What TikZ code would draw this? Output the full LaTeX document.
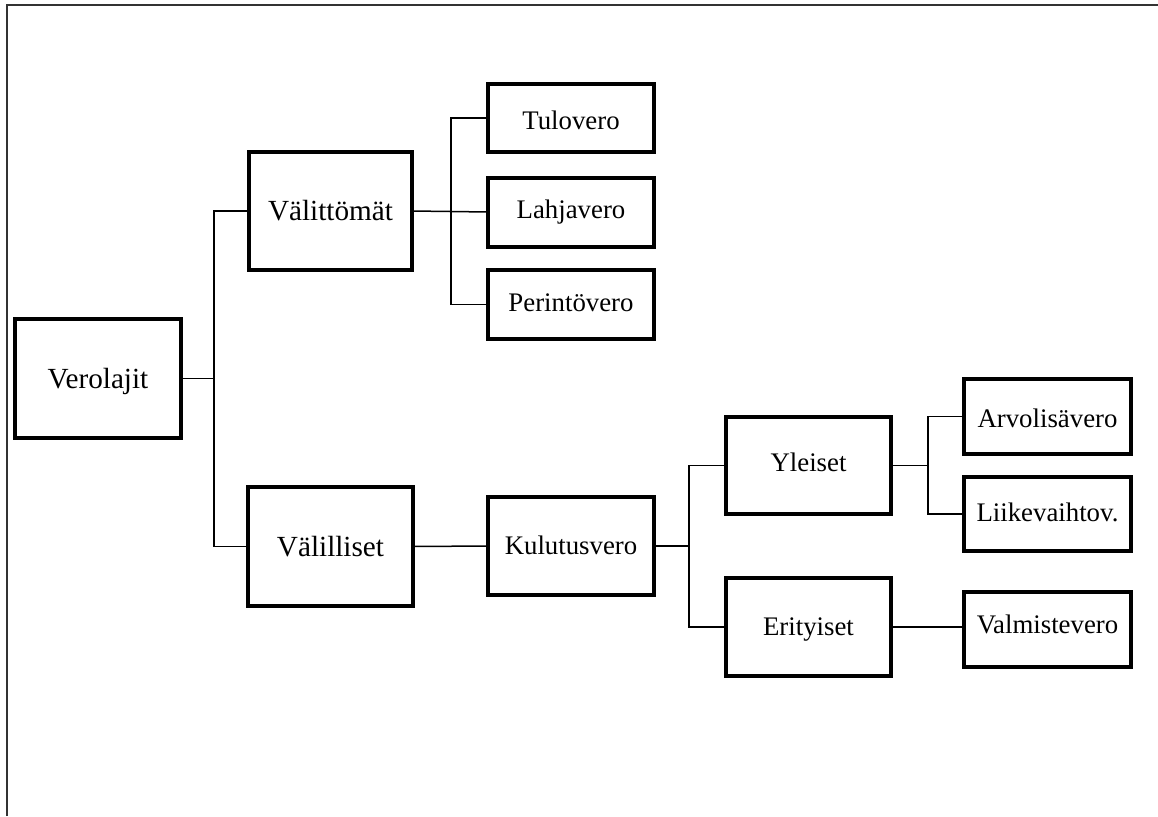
\documentclass[tikz,border=0pt]{standalone}
\usepackage{fontspec}
\setmainfont{Liberation Serif}
\newcommand{\shiftt}[2]{\raisebox{#1}{#2}}
\begin{document}
\begin{tikzpicture}[x=1pt,y=-1pt,
  box/.style={draw=black,line width=4pt,rectangle,inner sep=0pt,outer sep=0pt,
    align=center,text depth=0pt},
  big/.style={box,text height=19.2pt,font=\fontsize{29.2}{32}\selectfont},
  small/.style={box,text height=17.8pt,font=\fontsize{26.8}{30}\selectfont},
  link/.style={draw=black,line width=1.5pt},
  frame/.style={draw=black!80,line width=2pt}]
\useasboundingbox (0,0) rectangle (1158,816);
\draw[frame] (6.5,816) -- (6.5,5) -- (1158,5);

\node[big,minimum width=166pt,minimum height=119pt] (v) at (98,378.5) {Verolajit};
\node[big,minimum width=163pt,minimum height=118pt] (vt) at (330.5,211) {Välittömät};
\node[big,minimum width=165pt,minimum height=119pt] (vl) at (330.5,546.5) {Välilliset};

\node[small,minimum width=166pt,minimum height=68pt] (tu) at (571,118) {\shiftt{-3pt}{Tulovero}};
\node[small,minimum width=166pt,minimum height=69pt] (la) at (571,212) {\shiftt{2.5pt}{Lahjavero}};
\node[small,minimum width=166pt,minimum height=69pt] (pe) at (571,304.5) {\shiftt{2pt}{Perintövero}};
\node[small,minimum width=166pt,minimum height=98pt] (ku) at (571,546) {Kulutusvero};

\node[small,minimum width=165pt,minimum height=97pt] (yl) at (808.5,465.5) {\shiftt{2.5pt}{Yleiset}};
\node[small,minimum width=165pt,minimum height=98pt] (er) at (808.5,627) {Erityiset};

\node[small,minimum width=167pt,minimum height=75pt] (ar) at (1047.5,416.5) {\shiftt{-2.5pt}{Arvolisävero}};
\node[small,minimum width=167pt,minimum height=74pt] (li) at (1047.5,514) {\shiftt{1.5pt}{Liikevaihtov.}};
\node[small,minimum width=167pt,minimum height=75pt] (va) at (1047.5,629.5) {\shiftt{5pt}{Valmistevero}};

\coordinate (j1) at (214,378.5);
\coordinate (j2) at (451,211);
\coordinate (j3) at (689,546);
\coordinate (j4) at (928,465.5);

\draw[link] (v.east) -- (j1);
\draw[link] (vt.west) -| (j1) |- (vl.west);
\draw[link] (vt.east) -- (la.west);
\draw[link] (tu.west) -| (j2) |- (pe.west);
\draw[link] (vl.east) -- (ku.west);
\draw[link] (ku.east) -- (j3);
\draw[link] (yl.west) -| (j3) |- (er.west);
\draw[link] (yl.east) -- (j4);
\draw[link] (ar.west) -| (j4) |- (li.west);
\draw[link] (er.east) -- (er.east -| va.west);
\end{tikzpicture}
\end{document}
